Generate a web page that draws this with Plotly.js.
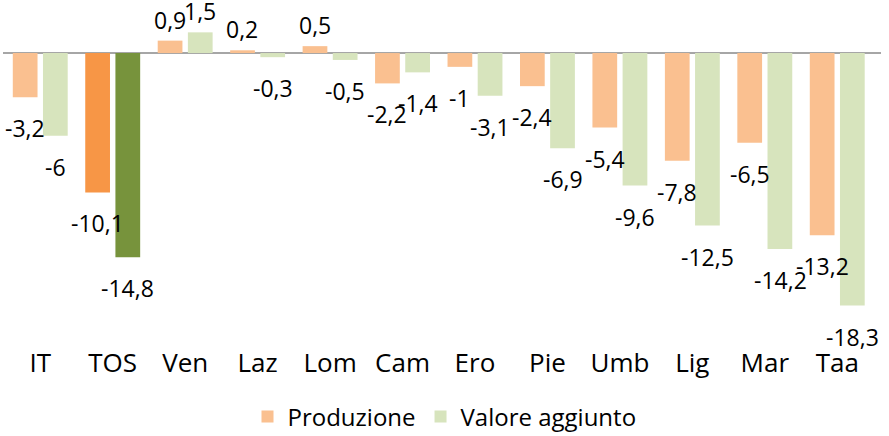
<!DOCTYPE html>
<html>
<head>
<meta charset="utf-8">
<script src="https://cdn.plot.ly/plotly-3.0.1.min.js"></script>
<style>html,body{margin:0;padding:0;background:#fff}#chart{width:889px;height:436px}</style>
</head>
<body>
<div id="chart"></div>
<script>
const categories = ["IT","TOS","Ven","Laz","Lom","Cam","Ero","Pie","Umb","Lig","Mar","Taa"];
const produzione = [-3.2,-10.1,0.9,0.2,0.5,-2.2,-1,-2.4,-5.4,-7.8,-6.5,-13.2];
const valoreAggiunto = [-6,-14.8,1.5,-0.3,-0.5,-1.4,-3.1,-6.9,-9.6,-12.5,-14.2,-18.3];
const highlight = "TOS";

const prodColor = "#FAC090", prodHi = "#F79646";
const vaColor = "#D7E4BD", vaHi = "#77933C";
const FONT = "Open Sans, sans-serif";

const fmt = v => String(v).replace('.', ',');

const traces = [
  {type:'bar', name:'Produzione', x:categories, y:produzione,
   marker:{color:categories.map(c => c===highlight ? prodHi : prodColor)}, hoverinfo:'skip'},
  {type:'bar', name:'Valore aggiunto', x:categories, y:valoreAggiunto,
   marker:{color:categories.map(c => c===highlight ? vaHi : vaColor)}, hoverinfo:'skip'}
];

const slot = 15.25;
const annotations = [];
[[produzione,-slot],[valoreAggiunto,slot]].forEach(([arr,dx]) => {
  arr.forEach((v,i) => {
    annotations.push({x:categories[i], y:v, xref:'x', yref:'y', text:fmt(v), showarrow:false,
      xshift:dx, yshift: v<0 ? -31 : 21, font:{family:FONT, size:23, color:'#000'}});
  });
});

const layout = {
  width:889, height:436,
  margin:{l:3, r:8, t:10, b:91},
  paper_bgcolor:'#fff', plot_bgcolor:'#fff',
  barmode:'group', bargap:0.167, bargroupgap:0.18,
  showlegend:true,
  legend:{orientation:'h', x:0.5, xanchor:'center', xref:'container', y:0.044, yanchor:'middle', yref:'container',
          font:{family:FONT, size:24, color:'#000'}, itemwidth:30},
  xaxis:{showgrid:false, showline:false, zeroline:false, ticks:'', automargin:false,
         tickfont:{family:FONT, size:26, color:'#000'}},
  yaxis:{range:[-21.16,3.12], showgrid:false, showline:false, showticklabels:false, automargin:false,
         zeroline:true, zerolinecolor:'#A6A6A6', zerolinewidth:2},
  annotations:annotations,
  font:{family:FONT}
};

Plotly.newPlot('chart', traces, layout, {displayModeBar:false, staticPlot:true});
</script>
</body>
</html>
